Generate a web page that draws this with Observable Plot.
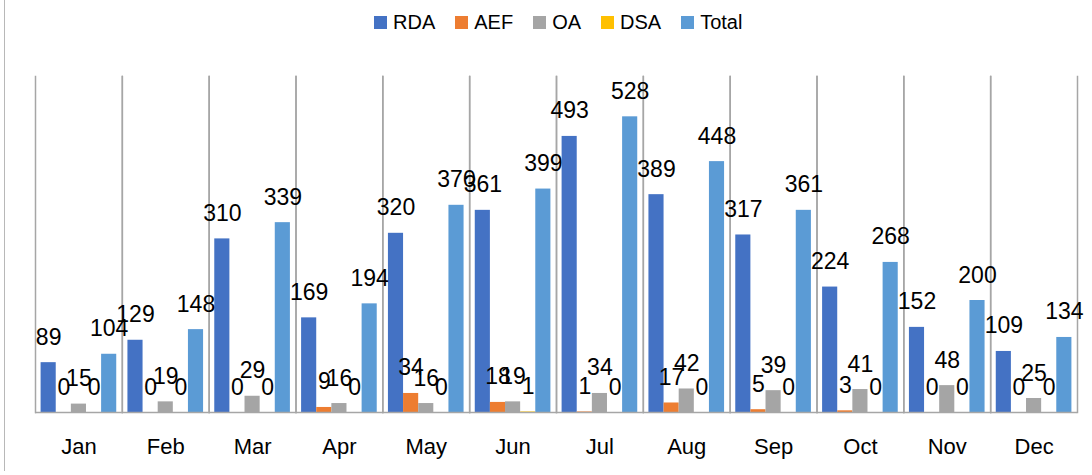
<!DOCTYPE html>
<html>
<head>
<meta charset="utf-8">
<script src="https://cdn.jsdelivr.net/npm/d3@7"></script>
<script src="https://cdn.jsdelivr.net/npm/@observablehq/plot@0.6"></script>
<style>
  html, body { margin: 0; padding: 0; background: #fff; }
  body { width: 1092px; height: 475px; position: relative; overflow: hidden; font-family: "Liberation Sans", Arial, sans-serif; }
  #border { position: absolute; left: 4px; top: 0; height: 471px; border-left: 1.5px solid #b8b8b8; }
  #legend { position: absolute; left: 374px; top: 0; height: 44px; display: flex; align-items: center; font-size: 20px; color: #000; }
  #legend .item { display: flex; align-items: center; margin-right: 20px; }
  #legend .sw { width: 13px; height: 13px; margin-right: 6px; }
  #chart { position: absolute; left: 0; top: 44px; }
</style>
</head>
<body>
<div id="border"></div>
<div id="legend"></div>
<div id="chart"></div>
<script>
const months = ["Jan","Feb","Mar","Apr","May","Jun","Jul","Aug","Sep","Oct","Nov","Dec"];
const seriesNames = ["RDA","AEF","OA","DSA","Total"];
const seriesColors = ["#4472C4","#ED7D31","#A5A5A5","#FFC000","#5B9BD5"];
const rda   = [89,129,310,169,320,361,493,389,317,224,152,109];
const aef   = [0,0,0,9,34,18,1,17,5,3,0,0];
const oa    = [15,19,29,16,16,19,34,42,39,41,48,25];
const dsa   = [0,0,0,0,0,1,0,0,0,0,0,0];
const total = [104,148,339,194,370,399,528,448,361,268,200,134];

const seriesValues = [rda, aef, oa, dsa, total];
const data = [];
months.forEach((m, i) => {
  seriesNames.forEach((s, j) => data.push({month: m, series: s, value: seriesValues[j][i]}));
});

// legend
const legend = document.getElementById("legend");
seriesNames.forEach((s, j) => {
  const it = document.createElement("div");
  it.className = "item";
  const sw = document.createElement("div");
  sw.className = "sw";
  sw.style.background = seriesColors[j];
  const tx = document.createElement("span");
  tx.textContent = s;
  it.appendChild(sw); it.appendChild(tx);
  legend.appendChild(it);
});

const grid = "#a6a6a6";
const chart = Plot.plot({
  width: 1092,
  height: 431,
  marginTop: 32,
  marginBottom: 63,
  marginLeft: 35,
  marginRight: 15,
  style: {fontFamily: "Liberation Sans, Arial, sans-serif", fontSize: "22px", color: "#000", background: "transparent"},
  fx: {domain: months, padding: 0, round: false, label: null, tickSize: 0, tickPadding: 26},
  x: {domain: seriesNames, axis: null, round: false, paddingInner: 0, paddingOuter: 0.37},
  y: {domain: [0, 600], axis: null},
  color: {domain: seriesNames, range: seriesColors},
  marks: [
    Plot.frame({anchor: "left", stroke: grid, strokeWidth: 1.5}),
    Plot.frame({anchor: "right", stroke: grid, strokeWidth: 1.5}),
    Plot.barY(data, {fx: "month", x: "series", y: "value", fill: "series"}),
    Plot.ruleY([0], {stroke: grid, strokeWidth: 1.5}),
    Plot.text(data, {fx: "month", x: "series", y: "value", text: d => String(d.value),
      lineAnchor: "bottom", dy: -18, fontSize: 23, fill: "#000"})
  ]
});
document.getElementById("chart").appendChild(chart);
</script>
</body>
</html>
